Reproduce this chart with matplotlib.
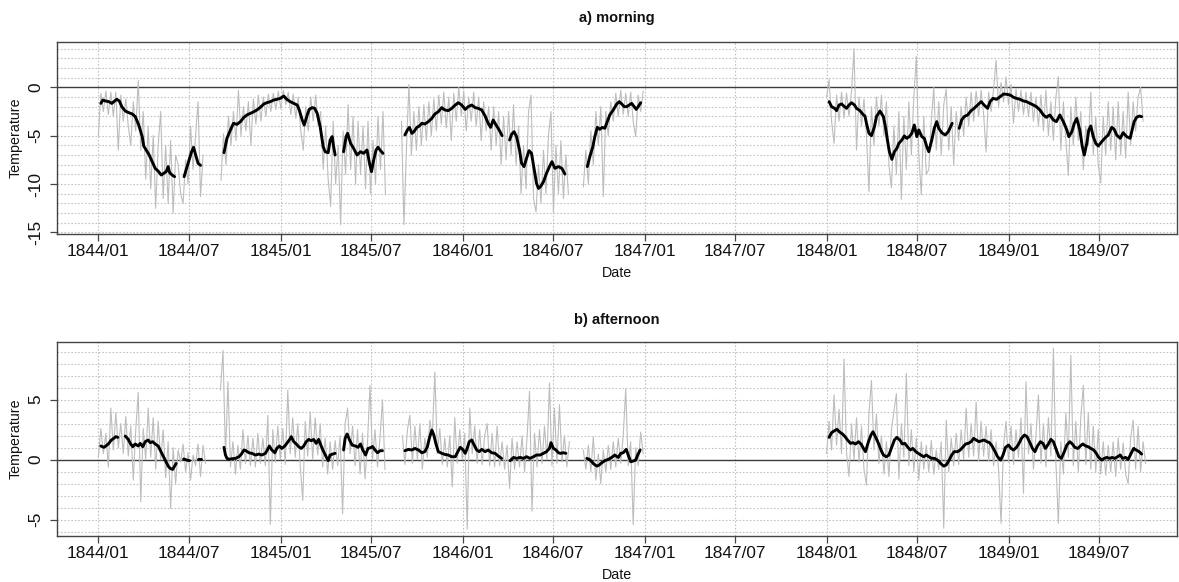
import numpy as np
import matplotlib
matplotlib.use("Agg")
import matplotlib.pyplot as plt
import matplotlib.dates as mdates

plt.rcParams["font.family"] = ["Liberation Sans", "DejaVu Sans"]

# ---------------------------------------------------------------------------
# Data: day offsets are counted from 1 January 1844.
# Daily readings are stored every STEP days, one list per unbroken stretch.
# ---------------------------------------------------------------------------
DAY0 = np.datetime64("1844-01-01")
STEP = 5

# morning, daily readings
morning_raw_start = [0, 246, 608, 973, 1461]
morning_raw_1844 = [-5.0, -0.6, -2.5, -0.4, -2.8, -0.5, -3.0, -0.5, -6.5, -0.8, -3.5, -1.2,
                    -4.0, -6.0, -1.5, -4.5, 0.7, -6.5, -2.5, -9.5, -4.0, -10.5, -5.0, -12.5,
                    -6.0, -2.5, -11.5, -6.0, -12.0, -5.5, -13.0, -7.0, -8.0, -11.0,
                    -12.0, -7.5, -10.0, -4.0, -8.5, -5.0, -1.5, -11.3, -7.0]
morning_raw_1845a = [-9.6, -4.8, -8.0, -3.0, -6.0, -2.5, -5.5, -0.3, -5.0, -2.0, -4.5, -1.5,
                     -6.0, -1.2, -3.8, -0.8, -3.5, -1.0, -3.0, -0.7, -2.5, -0.6, -2.3, -0.4,
                     -2.2, -0.3, -1.8, -0.5, -2.8, -0.7, -3.2, -1.0, -4.5, -6.5, -2.0, -4.5,
                     -1.0, -3.5, -0.8, -4.0, -2.5, -8.5, -4.0, -9.5, -12.3, -3.5, -10.0, -6.0,
                     -14.2, -4.5, -9.0, -1.8, -8.5, -3.0, -10.0, -3.5, -9.0, -4.0, -10.5, -3.5,
                     -11.0, -5.5, -10.0, -3.0, -8.5, -2.5, -11.1]
morning_raw_1845b = [-3.5, -14.2, -6.5, 0.3, -7.0, -2.5, -6.5, -2.0, -6.0, -1.8, -5.5, -1.5,
                     -5.0, -1.2, -4.5, -0.8, -3.8, -0.5, -4.2, -1.0, -5.5, -0.6, -3.5, 0.0,
                     -3.0, -0.4, -4.5, -1.0, -3.5, -0.5, -4.0, -1.0, -5.5, -1.5, -4.5, -2.0,
                     -6.5, -2.0, -6.0, -2.5, -8.0, -3.0,
                     -7.5, -2.5, -7.0, -1.8, -8.0, -4.0, -11.0, -6.0, -10.5, -2.5, -0.8, -11.5,
                     -12.9, -8.0, -12.0, -6.5, -11.0, -5.0, -2.5, -13.0, -6.0, -11.0, -5.5,
                     -11.5, -7.0, -11.0]
morning_raw_1846 = [-10.3, -6.5, -10.0, -4.5, -8.0, -2.5, -6.0, -2.0, -11.3, -2.5, -5.0, -1.5,
                    -3.5, -0.6, -3.0, -0.3, -2.8, -0.6, -3.0, -0.5, -3.5, -5.1, -0.8, -2.5, -0.4]
morning_raw_1848 = [-1.0, 0.8, -3.5, -5.8, -0.8, -3.5, -0.5, -3.2, -0.6, -3.0, -0.4, 4.0,
                    -6.5, -1.0, -4.0, -1.2, -5.0, -10.8, -2.0, -6.0, -1.0, -4.0, -0.8, -5.0,
                    -1.5, -8.0, -10.4, -4.0, -9.0, -2.5, -11.6, -3.0, -8.5, -1.5, -7.0, -1.0,
                    3.2, -7.0, -11.1, -3.0, -9.0, -8.5, -3.5, 0.0, -6.5, -1.5, -7.0, -1.8,
                    -0.2, -6.5, -2.0, -8.0, -2.5,
                    -5.5, -2.0, -5.0, -1.0, -4.0, -0.5, -3.5, -0.4, -3.0, -0.3, -2.8, -6.7,
                    -0.5, -2.5, -0.2, 2.8, -2.0, 0.5, -1.5, 1.1, -1.8, 0.3, -3.7, -0.2,
                    -2.5, -0.3, -2.8, -0.5, -3.0, -0.5, -3.5, -1.0, -4.0, -0.8, -4.5, -0.3,
                    -5.0, -1.5, -5.5, -1.0, 1.1, -6.5, -1.5, -5.5, -9.1, -2.0, -6.0, -1.0,
                    -5.5, -2.5, -8.5, -4.0, -6.0, -0.5, -7.0, -3.0, -8.0, -9.9, -3.0, -7.0,
                    -1.5, -6.5, -2.0, -7.5, -1.5, -7.0, -2.5, -7.3, -0.5, -6.0, -1.5, -4.5,
                    -1.0, 0.0, -3.5]
morning_raw = [morning_raw_1844, morning_raw_1845a, morning_raw_1845b,
               morning_raw_1846, morning_raw_1848]

# morning, running mean
morning_mean_day = [
    5, 9, 14, 21, 27, 31, 37, 42, 47, 54, 61, 68, 74, 81, 88, 91, 98, 102, 108, 114, 121,
    126, 131, 136, 140, 143, 148, 153,
    172, 177, 181, 187, 191, 196, 200, 205,
    252, 258, 265, 271, 278, 285, 292, 298, 305, 312, 318, 325, 332, 338, 345, 352, 358,
    365, 372, 378, 385, 392, 399, 403, 409, 413, 419, 423, 429, 434, 439, 445, 451, 455,
    461, 465, 469, 472, 475,
    492, 497, 500, 506, 512, 519, 526, 532, 539, 544, 548, 552, 557, 561, 565, 571,
    615, 620, 624, 629, 633, 639, 644, 649, 655, 662, 669, 675, 682, 689, 695, 702, 709,
    716, 722, 729, 736, 742, 749, 756, 762, 769, 776, 782, 787, 792, 798, 804, 810,
    825, 829, 834, 839, 845, 849, 854, 859, 864, 869, 874, 879, 883, 887, 893, 899, 905,
    910, 916, 923, 930, 936,
    981, 986, 992, 996, 1001, 1006, 1011, 1016, 1021, 1026, 1033, 1040, 1045, 1050, 1055,
    1060, 1065, 1070, 1075, 1079, 1083, 1088,
    1466, 1471, 1477, 1481, 1486, 1491, 1497, 1501, 1506, 1511, 1517, 1521, 1528, 1535,
    1538, 1541, 1546, 1551, 1557, 1561, 1568, 1575, 1579, 1583, 1587, 1592, 1597, 1602,
    1606, 1612, 1617, 1622, 1627, 1632, 1637, 1642, 1646, 1652, 1657, 1662, 1666, 1672,
    1677, 1682, 1686, 1692, 1699, 1705, 1713,
    1727, 1732, 1737, 1744, 1751, 1757, 1764, 1771, 1777, 1784, 1789, 1795, 1802, 1809,
    1816, 1822, 1829, 1836, 1842, 1849, 1856, 1862, 1869, 1876, 1882, 1889, 1896, 1902,
    1909, 1916, 1922, 1929, 1936, 1943, 1947, 1953, 1958, 1963, 1969, 1974, 1978, 1983,
    1987, 1991, 1996, 2001, 2006, 2013, 2019, 2026, 2033, 2038, 2043, 2050, 2056, 2063,
    2070, 2074, 2078, 2083, 2088, 2093]
morning_mean = [
    -1.66, -1.31, -1.41, -1.48, -1.66, -1.48, -1.24, -1.41, -2.0, -2.45, -2.62, -2.76,
    -3.03, -3.90, -5.10, -6.07, -6.66, -7.0, -7.69, -8.38, -8.72, -9.07, -8.9, -8.72,
    -8.2, -8.83, -9.07, -9.24,
    -9.24, -8.38, -7.69, -6.66, -6.2, -7.14, -7.86, -8.07,
    -6.76, -5.27, -4.41, -3.72, -3.83, -3.55, -3.10, -2.86, -2.69, -2.52, -2.34, -2.07,
    -1.72, -1.59, -1.48, -1.31, -1.24, -1.14, -0.90, -1.24, -1.48, -1.66, -1.83, -2.34,
    -3.38, -3.90, -2.86, -2.28, -2.10, -2.17, -2.69, -4.07, -6.14, -6.66, -6.76, -5.45,
    -5.10, -6.14, -7.0,
    -6.66, -5.10, -4.76, -5.79, -6.31, -7.0, -6.66, -6.83, -6.48, -7.86, -8.72, -7.6,
    -6.5, -6.2, -6.48, -6.83,
    -4.93, -4.41, -4.14, -4.76, -4.59, -4.14, -4.0, -3.72, -3.79, -3.55, -3.21, -2.76,
    -2.52, -2.10, -2.34, -2.41, -2.17, -1.83, -1.59, -1.83, -2.28, -2.0, -1.83, -2.10,
    -2.17, -2.34, -2.97, -3.72, -4.14, -3.38, -3.90, -4.41, -5.0,
    -5.45, -4.86, -4.59, -5.10, -6.48, -7.86, -8.2, -7.34, -6.55, -6.83, -8.38, -9.93,
    -10.45, -10.28, -9.76, -8.9, -8.2, -7.69, -8.38, -8.2, -8.38, -8.97,
    -8.2, -7.17, -6.14, -5.10, -4.14, -4.34, -4.14, -4.24, -3.55, -2.86, -2.34, -1.72,
    -1.48, -1.72, -2.0, -2.0, -1.83, -1.66, -2.0, -2.28, -2.0, -1.59,
    -1.48, -2.0, -2.17, -2.41, -1.83, -1.72, -2.0, -2.17, -1.83, -1.59, -1.83, -2.17,
    -2.41, -2.86, -2.97, -3.72, -4.76, -5.0, -4.07, -3.03, -2.45, -3.03, -4.07, -5.45,
    -6.66, -7.45, -6.66, -6.31, -5.79, -5.45, -5.03, -5.27, -5.10, -4.76, -3.90, -5.10,
    -4.41, -5.10, -5.27, -6.14, -6.66, -5.45, -4.24, -3.55, -4.24, -4.69, -4.93, -4.59,
    -3.72,
    -4.24, -3.38, -3.03, -2.86, -2.41, -2.17, -1.83, -1.48, -1.83, -2.17, -1.48, -1.14,
    -1.24, -0.97, -0.69, -0.72, -0.79, -1.03, -1.14, -1.24, -1.41, -1.48, -1.66, -1.83,
    -2.0, -2.34, -2.86, -3.10, -2.86, -3.38, -3.55, -2.86, -3.55, -4.41, -5.10, -4.59,
    -3.72, -3.21, -4.41, -6.14, -7.0, -5.79, -4.41, -4.0, -5.10, -5.79, -6.07, -5.62,
    -5.27, -4.93, -4.14, -4.34, -4.93, -5.27, -4.69, -5.10, -5.27, -4.41, -3.55, -3.10,
    -2.97, -3.03]

# afternoon, daily readings
afternoon_raw_start = [0, 245, 610, 973, 1461]
afternoon_raw_1844 = [0.2, 2.6, 0.5, 2.2, -0.6, 4.3, 0.8, 3.9, 1.0, 3.0, 0.5, 3.6, 0.3, 2.8,
                      -1.7, 2.5, 5.6, -3.5, 2.6, 0.0, 4.3, 0.2, 3.5, -0.8, 3.2, 0.0, 2.5,
                      -1.5, 1.5, -4.05, 1.0, -2.0, 0.8, -0.2, 1.3, -1.0, 0.6, -1.7, 0.4,
                      -0.5, 1.3, -1.4, 1.2, -0.3]
afternoon_raw_1845a = [5.8, 9.1, 0.3, 6.5, -0.6, 1.5, -1.2, 1.2, -0.8, 2.5, -0.3, 2.0, -0.5,
                       1.8, -0.6, 2.2, -0.3, 1.8, -0.5, 3.7, -5.4, 2.5, -0.2, 2.8, 0.0, 2.6,
                       -0.4, 5.8, 0.5, 3.5, 0.2, 3.0, -0.5, -3.4, 3.2, 0.3, 4.0, 0.0, 3.5,
                       0.4, 3.0, -0.6, 1.8, -1.2, 1.5, -0.8, 1.6, -0.5, 2.0, -4.5, 3.0, 4.3,
                       0.5, 2.8, -0.5, 2.5, -1.2, 2.2, -1.6, 1.5, 6.2, 0.0, 2.5, -0.6, 1.8,
                       5.0, -0.8]
afternoon_raw_1845b = [2.0, -0.4, 2.5, 3.7, -0.3, 2.8, 0.0, 3.0, -0.8, 1.8, 0.2, 3.3, 2.0,
                       7.3, 0.5, 2.6, -0.4, 1.8, -0.6, 2.0, -2.25, 3.5, -0.3, 2.5, 0.0, 2.2,
                       -5.8, 4.3, 0.5, 2.8, -0.3, 2.5, -0.4, 2.0, 3.0, -0.5, 2.2, -0.6, 2.8,
                       -0.5, 1.5, -0.8, 1.2, -2.4, 1.8, -0.8, 1.5, -0.6, 2.0, -1.0, 1.8, 5.7,
                       -4.3, 2.2, -0.6, 2.5, -0.3, 2.8, 0.0, 6.4, -0.5, 4.3, -0.3, 4.6, -0.2,
                       2.0, -0.6, 1.5]
afternoon_raw_1846 = [0.8, -0.8, 1.2, -1.0, 1.9, -1.7, 0.5, -2.0, 0.8, -1.0, 1.2, -0.8, 1.5,
                      -0.6, 1.8, -0.3, 2.0, 5.9, -0.5, 1.5, -5.4, 1.0, -0.5, 2.3, 0.5]
afternoon_raw_1848 = [0.5, 3.2, 0.8, 5.4, 1.2, 4.2, 0.5, 8.4, 0.6, -1.4, 3.0, 0.0, 3.5, -0.2,
                      2.8, -0.8, -2.1, 3.9, 6.6, 0.8, 3.8, -0.3, 2.0, -1.2, 1.5, -1.4, 2.5,
                      4.0, 5.5, -1.6, 3.0, 0.2, 7.2, -0.5, 2.5, -1.0, 1.8, -1.7, 1.5, -0.8,
                      1.2, -1.0, 1.6, -1.2, 0.8, -0.8, 1.5, -5.7, 3.3, -1.0, 1.8, -0.5, 2.2,
                      -0.4, 2.5, 0.0, 4.3, 0.2, 3.0, 0.3, 4.8, -0.1, 3.2, 0.3, 2.8, -0.1,
                      2.5, -0.5, 1.5, -0.8, -5.3, 1.2, 3.2, -0.2, 2.8, -0.4, 2.5, 0.2, 3.5,
                      -2.8, 6.5, 0.5, 3.0, -0.8, 2.0, 5.4, -0.3, 3.0, -0.6, 3.5, 0.3, 9.3,
                      -0.2, -5.3, 1.5, -1.2, 3.9, 0.2, 8.7, -0.5, 3.2, -1.0, 3.5, 6.2, -0.4,
                      3.9, -0.8, 2.8, -1.0, 2.5, -1.2, 1.5, -1.3, 1.2, -1.0, 1.5, -1.4, 1.8,
                      -0.8, 1.4, -1.2, -2.0, 1.8, 3.3, -0.8, 2.8, -1.0, 1.5, -0.3]
afternoon_raw = [afternoon_raw_1844, afternoon_raw_1845a, afternoon_raw_1845b,
                 afternoon_raw_1846, afternoon_raw_1848]

# afternoon, running mean
afternoon_mean_day = [
    5, 11, 15, 21, 26, 31, 35, 39,
    54, 60, 64, 69, 74, 80, 84, 89, 94, 100, 104, 109, 114, 120, 124, 129, 134, 140, 144,
    149, 153, 156,
    171, 177, 183,
    200, 205,
    252, 255, 258, 263, 268, 275, 282, 287, 292, 296, 302, 308, 315, 322, 328, 335, 339,
    343, 348, 354, 358, 363, 368, 374, 378, 383, 387, 392, 397, 402, 407, 412, 417, 422,
    427, 432, 437, 442, 447, 452, 457, 461, 465, 470, 475,
    492, 495, 499, 504, 509, 516, 521, 526, 530, 536, 541, 546, 550, 555, 560, 565, 570,
    615, 622, 629, 635, 642, 649, 655, 660, 664, 669, 673, 677, 682, 689, 695, 702, 709,
    716, 720, 726, 731, 736, 740, 744, 749, 754, 759, 764, 769, 776, 782, 789, 796, 802,
    809,
    826, 833, 839, 846, 853, 859, 866, 873, 879, 886, 893, 899, 905, 908, 913, 918, 923,
    927, 933, 938,
    980, 985, 990, 994, 1000, 1005, 1010, 1016, 1023, 1030, 1036, 1043, 1048, 1053, 1059,
    1063, 1068, 1073, 1078, 1082, 1087,
    1466, 1471, 1477, 1482, 1487, 1493, 1498, 1503, 1509, 1514, 1519, 1525, 1530, 1535,
    1539, 1545, 1550, 1554, 1559, 1565, 1570, 1575, 1581, 1586, 1592, 1597, 1602, 1608,
    1613, 1618, 1624, 1629, 1634, 1640, 1645, 1650, 1656, 1661, 1666, 1672, 1678, 1685,
    1691, 1696, 1701, 1707, 1712, 1717, 1724, 1729, 1735, 1740, 1745, 1751, 1756, 1761,
    1767, 1772, 1777, 1783, 1788, 1793, 1799, 1804, 1810, 1815, 1820, 1826, 1831, 1836,
    1842, 1847, 1852, 1858, 1863, 1868, 1874, 1879, 1884, 1890, 1895, 1900, 1906, 1911,
    1916, 1922, 1927, 1932, 1938, 1943, 1949, 1954, 1959, 1965, 1970, 1975, 1981, 1986,
    1991, 1997, 2002, 2007, 2013, 2018, 2023, 2029, 2034, 2039, 2045, 2050, 2055, 2061,
    2066, 2072, 2077, 2082, 2088, 2093]
afternoon_mean = [
    1.14, 1.03, 1.14, 1.36, 1.64, 1.78, 1.92, 1.86,
    1.97, 1.69, 1.36, 1.08, 1.31, 1.14, 1.36, 1.08, 1.5, 1.64, 1.42, 1.5, 1.31, 1.14,
    0.81, 0.39, -0.03, -0.53, -0.72, -0.81, -0.53, -0.31,
    0.06, -0.03, -0.08,
    0.08, 0.08,
    1.03, 0.39, 0.11, 0.03, 0.08, 0.11, 0.25, 0.47, 0.81, 0.75, 0.58, 0.53, 0.39, 0.47,
    0.39, 0.53, 0.81, 1.14, 0.81, 0.58, 0.94, 1.14, 0.94, 1.14, 1.36, 1.64, 1.92, 1.5,
    1.31, 1.08, 0.94, 1.14, 1.5, 1.69, 1.58, 1.69, 1.36, 1.69, 1.14, 0.67, 0.25, -0.08,
    0.39, 0.47, 0.53,
    0.81, 1.78, 2.14, 1.64, 1.22, 1.14, 1.03, 1.31, 0.86, 0.39, 0.94, 1.0, 1.1, 0.81,
    0.58, 0.75, 0.75,
    0.75, 0.86, 0.81, 0.94, 0.81, 0.58, 0.67, 1.08, 1.78, 2.47, 2.06, 1.36, 0.67, 0.53,
    0.44, 0.39, 0.25, 0.25, 0.58, 1.03, 0.86, 0.53, 0.94, 1.5, 1.64, 1.22, 0.81, 0.67,
    0.86, 0.67, 0.81, 0.58, 0.53, 0.31, 0.11,
    -0.08, 0.19, 0.11, 0.19, 0.11, 0.25, 0.11, 0.25, 0.39, 0.39, 0.53, 0.67, 0.94, 1.42,
    0.94, 0.81, 0.58, 0.53, 0.58, 0.53,
    0.11, 0.03, -0.17, -0.36, -0.53, -0.44, -0.25, -0.08, 0.03, 0.19, 0.39, 0.19, 0.53,
    0.58, 0.86, 0.39, -0.17, -0.11, -0.03, 0.39, 0.81,
    1.86, 2.25, 2.42, 2.53, 2.31, 2.14, 1.92, 1.64, 1.36, 1.42, 1.31, 1.5, 1.31, 0.94,
    0.67, 1.5, 2.06, 2.33, 1.92, 1.36, 0.81, 0.39, 0.25, 0.39, 1.08, 1.64, 1.86, 1.64,
    1.31, 1.36, 1.03, 0.81, 0.94, 0.67, 0.53, 0.39, 0.25, 0.39, 0.25, 0.11, 0.11, -0.08,
    -0.36, -0.53, -0.44, -0.03, 0.39, 0.67, 0.67, 0.81, 1.08, 1.31, 1.36, 1.5, 1.78,
    1.64, 1.5, 1.58, 1.64, 1.5, 1.42, 1.14, 0.67, 0.25, -0.03, 0.39, 1.03, 1.22, 0.94,
    0.81, 1.03, 1.36, 1.78, 2.06, 1.92, 1.5, 0.94, 0.67, 1.14, 1.5, 1.36, 0.94, 1.31,
    1.69, 1.5, 0.81, 0.25, 0.11, 0.67, 1.22, 1.5, 1.31, 1.03, 0.94, 1.14, 1.31, 1.14,
    1.08, 0.94, 0.81, 0.53, 0.19, -0.03, 0.11, 0.19, 0.11, 0.19, 0.11, 0.25, 0.39, 0.11,
    0.19, 0.03, 0.53, 0.94, 0.81, 0.67, 0.47]

tick_dates = ["1844-01-01", "1844-07-01", "1845-01-01", "1845-07-01", "1846-01-01",
              "1846-07-01", "1847-01-01", "1847-07-01", "1848-01-01", "1848-07-01",
              "1849-01-01", "1849-07-01"]
tick_labels = ["1844/01", "1844/07", "1845/01", "1845/07", "1846/01", "1846/07",
               "1847/01", "1847/07", "1848/01", "1848/07", "1849/01", "1849/07"]

# ---------------------------------------------------------------------------
W, H = 1179, 582
fig = plt.figure(figsize=(W / 100, H / 100), dpi=100)

GRID_KW = dict(color="#c4c4c4", lw=0.8, ls=(0, (1.5, 1.6)))
FRAME = "#444444"


def to_dates(days):
    return DAY0 + np.asarray(days).astype("timedelta64[D]")


def panel(rect, raw_start, raw, mean_day, mean_val, ylim, major, minor):
    ax = fig.add_axes(rect)
    # daily readings
    for start, vals in zip(raw_start, raw):
        d = start + STEP * np.arange(len(vals))
        ax.plot(to_dates(d), vals, color="#bdbdbd", lw=0.8, zorder=2)
    # running mean, broken where the record has a gap
    days = np.asarray(mean_day)
    vals = np.asarray(mean_val, dtype=float)
    cuts = np.where(np.diff(days) > 10)[0] + 1
    for dd, vv in zip(np.split(days, cuts), np.split(vals, cuts)):
        ax.plot(to_dates(dd), vv, color="black", lw=2.1, zorder=3,
                solid_joinstyle="round", solid_capstyle="round")
    ax.axhline(0, color="#3c3c3c", lw=1.0, zorder=1.8)

    lo = mdates.date2num(DAY0 - np.timedelta64(83, "D"))
    hi = mdates.date2num(DAY0 + np.timedelta64(2164, "D"))
    ax.set_xlim(lo, hi)
    ax.set_ylim(*ylim)

    ticks = mdates.date2num(np.array(tick_dates, dtype="datetime64[D]"))
    ax.set_xticks(ticks)
    ax.set_xticklabels(tick_labels)
    ax.set_yticks(major)
    ax.set_yticks(minor, minor=True)
    ax.set_yticklabels([f"{v:g}" for v in major], rotation=90, va="center", ha="right")

    for t in ticks:
        ax.axvline(t, zorder=1, **GRID_KW)
    for v in minor:
        if v != 0:
            ax.axhline(v, zorder=1, **GRID_KW)

    ax.tick_params(axis="both", which="major", direction="out", length=5,
                   width=0.9, color=FRAME, labelsize=12.4, labelcolor="#111111")
    ax.tick_params(axis="x", pad=2.5)
    ax.tick_params(axis="y", pad=5)
    ax.tick_params(which="minor", length=0)
    for s in ax.spines.values():
        s.set_color(FRAME)
        s.set_linewidth(1.0)
    return ax


def frac_y(py):
    return 1 - py / H


left, right = 57 / W, 1177 / W
ax1 = panel([left, frac_y(234), right - left, (234 - 41.7) / H],
            morning_raw_start, morning_raw, morning_mean_day, morning_mean,
            (-15.17, 4.72), [-15, -10, -5, 0], list(range(-15, 5)))
ax2 = panel([left, frac_y(535.7), right - left, (535.7 - 342.3) / H],
            afternoon_raw_start, afternoon_raw, afternoon_mean_day, afternoon_mean,
            (-6.33, 9.78), [-5, 0, 5], list(range(-6, 10)))

cx = 617 / W
fig.text(cx, frac_y(18), "a) morning", ha="center", va="center",
         fontsize=10.5, fontweight="bold", color="#111111")
fig.text(cx, frac_y(320), "b) afternoon", ha="center", va="center",
         fontsize=10.5, fontweight="bold", color="#111111")
fig.text(cx, frac_y(273), "Date", ha="center", va="center", fontsize=10.3, color="#111111")
fig.text(cx, frac_y(575), "Date", ha="center", va="center", fontsize=10.3, color="#111111")
fig.text(16 / W, frac_y(138), "Temperature", rotation=90, ha="center", va="center",
         fontsize=10.3, color="#111111")
fig.text(16 / W, frac_y(439), "Temperature", rotation=90, ha="center", va="center",
         fontsize=10.3, color="#111111")

fig.savefig("out.png", dpi=100)
